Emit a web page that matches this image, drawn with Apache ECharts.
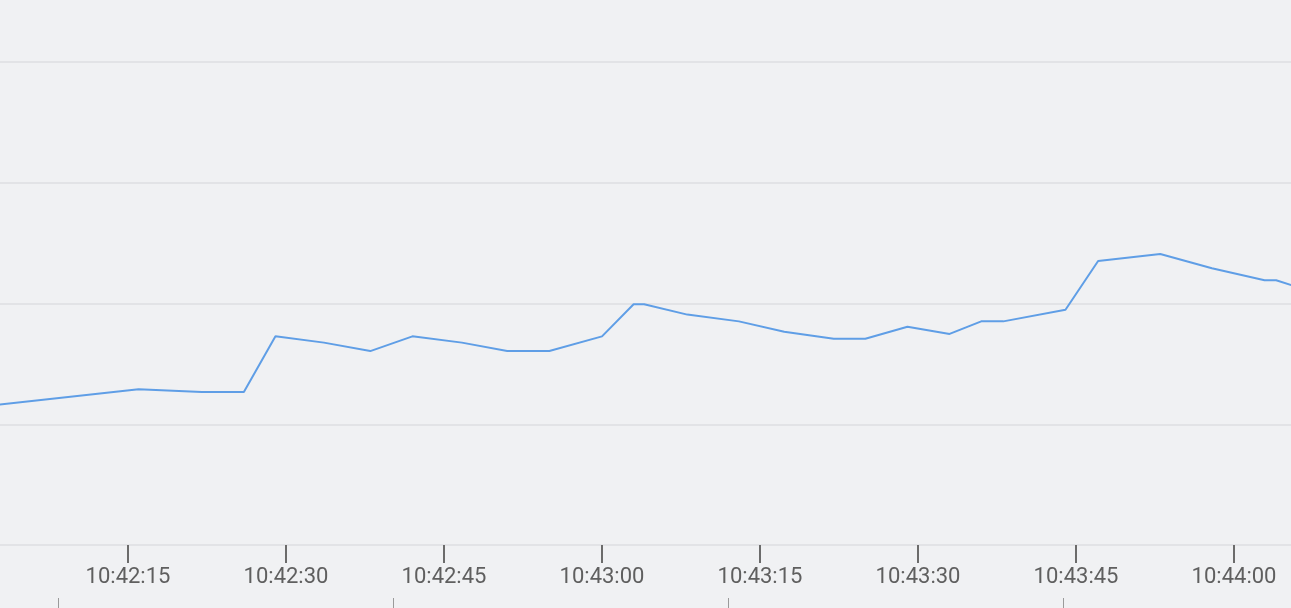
<!DOCTYPE html>
<html>
<head>
<meta charset="utf-8">
<script src="https://cdn.jsdelivr.net/npm/echarts@6/dist/echarts.min.js"></script>
<style>
  html, body { margin: 0; padding: 0; background: #f0f1f3; }
  #chart { width: 1291px; height: 608px; }
</style>
</head>
<body>
<div id="chart"></div>
<script>
// ---- data ----
const times = ['10:42:02', '10:42:16', '10:42:22', '10:42:26', '10:42:29', '10:42:33.6', '10:42:38', '10:42:42',
  '10:42:46.7', '10:42:51', '10:42:55', '10:43:00', '10:43:03', '10:43:04', '10:43:08.1', '10:43:13',
  '10:43:17.3', '10:43:22', '10:43:25', '10:43:29', '10:43:33', '10:43:36', '10:43:38.1', '10:43:44',
  '10:43:47.1', '10:43:53', '10:43:57.9', '10:44:02.9', '10:44:04', '10:44:07'];
const values = [57.8, 64.5, 63.4, 63.4, 86.4, 83.8, 80.3, 86.4,
  83.8, 80.3, 80.3, 86.4, 99.7, 99.7, 95.4, 92.6,
  88.3, 85.4, 85.4, 90.4, 87.4, 92.6, 92.6, 97.4,
  117.6, 120.5, 114.6, 109.6, 109.6, 105.5];
const tickLabels = ['10:42:15', '10:42:30', '10:42:45', '10:43:00', '10:43:15', '10:43:30', '10:43:45', '10:44:00'];
const xRange = ['10:42:02.848', '10:44:05.410'];
const yTicks = [0, 50, 100, 150, 200];

// ---- build ----
// time string -> seconds since midnight
const sec = s => { const p = s.split(':').map(Number); return p[0] * 3600 + p[1] * 60 + p[2]; };
const seriesData = times.map((t, i) => [sec(t), values[i]]);
const tickValues = tickLabels.map(sec);
const labelOf = v => {
  const i = tickValues.findIndex(t => Math.abs(t - v) < 0.01);
  return i >= 0 ? tickLabels[i] : '';
};

const chart = echarts.init(document.getElementById('chart'), null, { renderer: 'canvas' });
chart.setOption({
  backgroundColor: '#f0f1f3',
  animation: false,
  grid: [
    { left: 0, right: 0, top: 62, bottom: 63, containLabel: false },
    { left: 58, right: 0, top: 598, height: 200, containLabel: false }
  ],
  xAxis: [
    {
      type: 'value',
      gridIndex: 0,
      min: sec(xRange[0]),
      max: sec(xRange[1]),
      axisLine: { show: true, onZero: false, lineStyle: { color: '#e2e3e6', width: 2 } },
      axisTick: { show: true, customValues: tickValues, length: 18, lineStyle: { color: '#6b6b6b', width: 2 } },
      axisLabel: {
        show: true, customValues: tickValues, formatter: v => labelOf(v),
        color: '#5f5f5f', fontFamily: 'Roboto', fontSize: 22, margin: 21
      },
      splitLine: { show: false }
    },
    {
      type: 'value',
      gridIndex: 1,
      min: 0, max: 3.68, interval: 1,
      axisLine: { show: false },
      axisTick: { show: false },
      axisLabel: { show: false },
      splitLine: { show: true, showMaxLine: false, lineStyle: { color: '#9a9a9a', width: 1 } }
    }
  ],
  yAxis: [
    {
      type: 'value',
      gridIndex: 0,
      min: yTicks[0], max: yTicks[yTicks.length - 1], interval: yTicks[1] - yTicks[0],
      axisLine: { show: false },
      axisTick: { show: false },
      axisLabel: { show: false },
      splitLine: { show: true, lineStyle: { color: '#e2e3e6', width: 2 } }
    },
    {
      type: 'value',
      gridIndex: 1,
      min: 0, max: 1,
      show: false,
      splitLine: { show: false }
    }
  ],
  series: [
    {
      type: 'line',
      xAxisIndex: 0,
      yAxisIndex: 0,
      data: seriesData,
      showSymbol: false,
      symbol: 'none',
      clip: true,
      lineStyle: { color: '#5f9ee6', width: 2 },
      itemStyle: { color: '#5f9ee6' }
    }
  ]
});
</script>
</body>
</html>
